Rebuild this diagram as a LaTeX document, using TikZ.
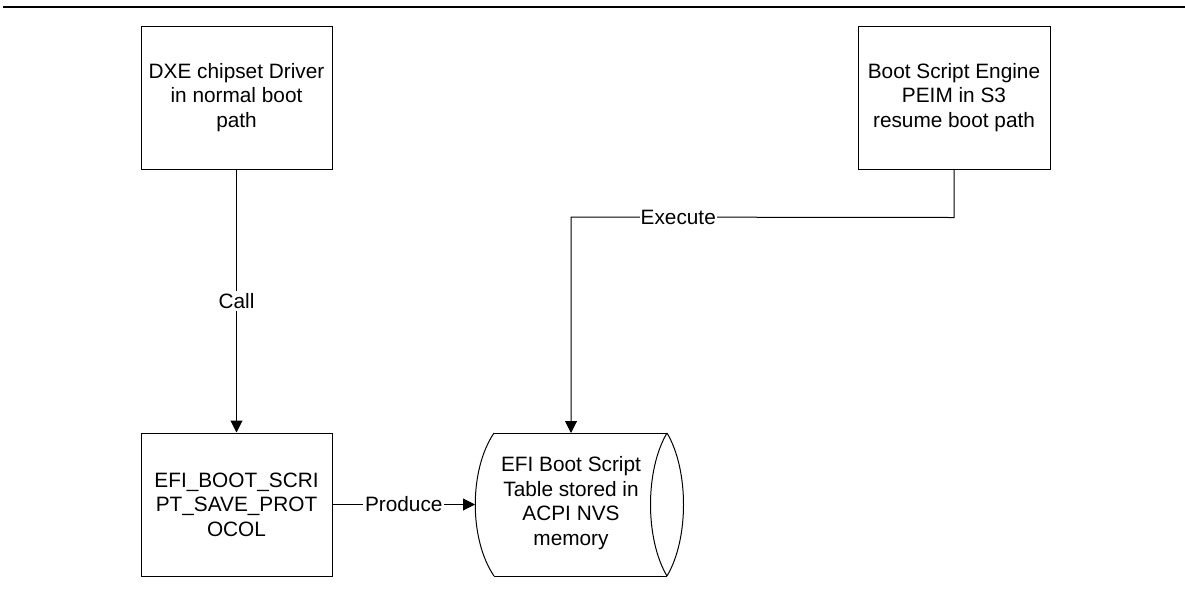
\documentclass[tikz,border=0pt]{standalone}
\usepackage{fontspec}
\setmainfont{Liberation Sans}
\usetikzlibrary{arrows.meta}
\begin{document}
\begin{tikzpicture}[x=1pt,y=-1pt,
  every node/.style={font=\fontsize{20.8}{24.5}\selectfont},
  boxnode/.style={draw=black,line width=1pt,minimum width=191pt,minimum height=143pt,align=center,inner sep=0pt},
  conn/.style={draw=black,line width=1pt},
  arr/.style={conn,-{Triangle[length=12pt,width=12pt]}},
  lbl/.style={fill=white,inner sep=2pt}]
\useasboundingbox (0,0) rectangle (1185,590);
\draw[line width=2.6pt] (3,7) -- (1185,7);
\node[boxnode] (dxe) at (236.5,97.5) {DXE chipset Driver\\in normal boot\\path};
\node[boxnode,minimum width=192pt] (eng) at (954,97.5) {Boot Script Engine\\PEIM in S3\\resume boot path};
\node[boxnode] (save) at (236.5,504.5) {EFI\_BOOT\_SCRI\\PT\_SAVE\_PROT\\OCOL};
\node[minimum height=143pt,inner sep=0pt,align=center] (tbl) at (571,503) {EFI Boot Script\\Table stored in\\ACPI NVS\\memory};
% storage shape
\coordinate (tl) at (494,433);
\coordinate (bl) at (494,576);
\coordinate (tr) at (667,433);
\coordinate (br) at (667,576);
\coordinate (tblleft) at (475,504.5);
\draw[conn] (tl) -- (tr);
\draw[conn] (bl) -- (br);
\draw[conn] (tl) .. controls (469,470) and (469,539) .. (bl);
\draw[conn] (tr) .. controls (645,470) and (645,539) .. (br);
\draw[conn] (tr) .. controls (689,470) and (689,539) .. (br);
% connectors
\draw[arr] (dxe.south) -- node[lbl,pos=0.5]{Call} (save.north);
\draw[arr] (save.east) -- node[lbl,pos=0.5]{Produce} (tblleft);
\draw[arr] (eng.south) -- ++(0,48) -- node[lbl,pos=0.72,inner sep=1pt]{Execute} (571,217) -- (571,433);
\end{tikzpicture}
\end{document}
